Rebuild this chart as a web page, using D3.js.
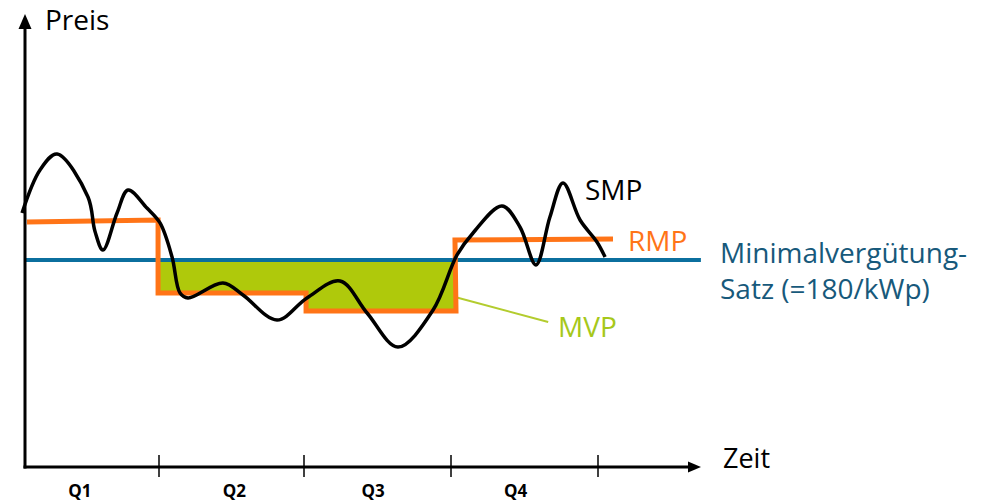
<!DOCTYPE html>
<html>
<head>
<meta charset="utf-8">
<script src="https://cdn.jsdelivr.net/npm/d3@7"></script>
<style>
  html, body { margin: 0; padding: 0; background: #fff; }
  svg { display: block; }
  text { font-family: "Open Sans", Lato, sans-serif; }
</style>
</head>
<body>
<svg id="chart" width="993" height="501"></svg>
<script>
// ---- data (time in quarters, price in €/kWp-like units) ----
const quarterTicks = [1, 2, 3, 4];
const quarterLabels = ["Q1", "Q2", "Q3", "Q4"];
const quarterLabelPos = [0.41, 1.52, 2.47, 3.44];

const minRate = 180; // Minimalvergütung-Satz

// SMP (spot market price) – wavy black curve
const smpTime  = [-0.022, 0.112, 0.239, 0.470, 0.522, 0.582, 0.687, 0.769, 0.910, 1.007, 1.090, 1.145, 1.200, 1.441, 1.579, 1.814, 2.020, 2.245, 2.429, 2.639, 2.878, 3.041, 3.150, 3.347, 3.469, 3.578, 3.673, 3.762, 3.878, 3.993, 4.048];
const smpValue = [220.9, 258.3, 272.2, 234.8, 205.0, 188.7, 220.9, 240.9, 225.2, 212.2, 182.6, 151.3, 147.0, 160.0, 149.6, 127.8, 147.0, 161.7, 133.9, 104.3, 136.5, 184.4, 203.5, 227.0, 208.7, 175.7, 217.4, 247.0, 214.8, 195.7, 182.6];

// RMP (reference market price) – orange step line
const rmpTime  = [0.015, 0.993, 0.993, 2.014, 2.014, 3.034, 3.027, 4.102];
const rmpValue = [213.0, 214.8, 151.3, 151.3, 135.7, 135.7, 197.4, 198.3];

// MVP area (between min. rate and RMP where RMP < min. rate)
const mvpTime  = [1.0, 2.014, 2.014, 3.03];
const mvpValue = [151.3, 151.3, 135.7, 135.7];

// ---- scales ----
const x = d3.scaleLinear().domain([0, 1, 2, 3, 4]).range([25, 159, 304, 451, 598]);
const y = d3.scaleLinear().domain([0, minRate]).range([467, 260]);

const svg = d3.select("#chart");
const orange = "#ff7417", blue = "#0b6f9e", green = "#afc90b";

// MVP filled area
svg.append("path")
  .datum(mvpTime.map((t, i) => [t, mvpValue[i]]))
  .attr("fill", green)
  .attr("d", d3.area().x(d => x(d[0])).y0(d => y(d[1])).y1(y(minRate)));

// minimal rate line
svg.append("line")
  .attr("x1", x(0)).attr("x2", x(4.70))
  .attr("y1", y(minRate)).attr("y2", y(minRate))
  .attr("stroke", blue).attr("stroke-width", 4);

// MVP callout line
svg.append("line")
  .attr("x1", x(3.027)).attr("y1", y(147.8))
  .attr("x2", x(3.661)).attr("y2", y(126.1))
  .attr("stroke", "#b3cc2e").attr("stroke-width", 2);

// RMP step line
svg.append("path")
  .datum(rmpTime.map((t, i) => [t, rmpValue[i]]))
  .attr("fill", "none").attr("stroke", orange).attr("stroke-width", 5)
  .attr("stroke-linejoin", "miter")
  .attr("d", d3.line().x(d => x(d[0])).y(d => y(d[1])));

// SMP curve
svg.append("path")
  .datum(smpTime.map((t, i) => [t, smpValue[i]]))
  .attr("fill", "none").attr("stroke", "#000").attr("stroke-width", 3.5)
  .attr("stroke-linejoin", "round")
  .attr("d", d3.line().curve(d3.curveCatmullRom.alpha(0.5)).x(d => x(d[0])).y(d => y(d[1])));

// ---- axes ----
const axisG = svg.append("g");
const xAxis = d3.axisBottom(x).tickValues(quarterTicks).tickFormat("").tickSize(0);
axisG.append("g").attr("transform", `translate(0,${y(0)})`).call(xAxis)
  .call(g => g.select(".domain").remove());

// x axis line + arrow
axisG.append("line").attr("x1", x(0) - 1.5).attr("x2", 690).attr("y1", y(0)).attr("y2", y(0))
  .attr("stroke", "#000").attr("stroke-width", 3);
axisG.append("path").attr("d", `M701,${y(0)} L688,${y(0) - 5.5} L688,${y(0) + 5.5} Z`).attr("fill", "#000");
// y axis line + arrow
axisG.append("line").attr("x1", x(0)).attr("x2", x(0)).attr("y1", y(0) + 1.5).attr("y2", 25)
  .attr("stroke", "#000").attr("stroke-width", 3);
axisG.append("path").attr("d", `M${x(0)},14 L${x(0) - 6.5},29 L${x(0) + 6.5},29 Z`).attr("fill", "#000");

// ticks
axisG.selectAll(".qtick").data(quarterTicks).join("line")
  .attr("x1", d => x(d)).attr("x2", d => x(d))
  .attr("y1", y(0) - 12).attr("y2", y(0) + 10)
  .attr("stroke", "#000").attr("stroke-width", 1.5);

// quarter labels
svg.selectAll(".qlab").data(quarterLabels).join("text")
  .attr("x", (d, i) => x(quarterLabelPos[i])).attr("y", 497)
  .attr("text-anchor", "middle").attr("font-size", 17).attr("font-weight", "bold")
  .text(d => d);

// ---- texts ----
svg.append("text").attr("x", 45).attr("y", 30).attr("font-size", 28).text("Preis");
svg.append("text").attr("x", 723).attr("y", 468).attr("font-size", 27).text("Zeit");
svg.append("text").attr("x", 585).attr("y", 200).attr("font-size", 28).attr("fill", "#000").text("SMP");
svg.append("text").attr("x", 628).attr("y", 251).attr("font-size", 28).attr("fill", orange).text("RMP");
svg.append("text").attr("x", 558).attr("y", 337).attr("font-size", 28).attr("fill", "#a6c81a").text("MVP");
svg.append("text").attr("x", 720).attr("y", 263).attr("font-size", 28).attr("fill", "#17597b").text("Minimalvergütung-");
svg.append("text").attr("x", 720).attr("y", 299).attr("font-size", 28).attr("fill", "#17597b").text("Satz (=180/kWp)");
</script>
</body>
</html>
